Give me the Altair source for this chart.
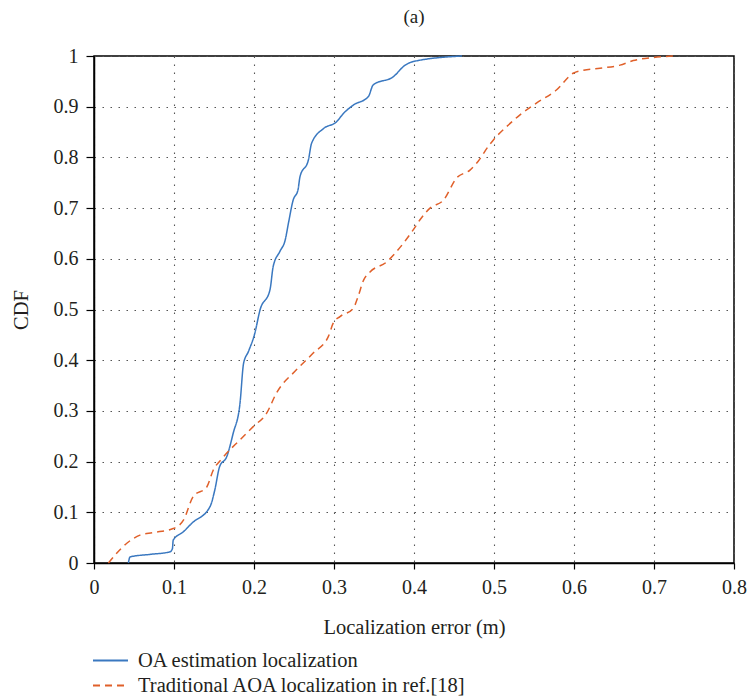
import altair as alt
import pandas as pd

series_names = ["OA estimation localization", "Traditional AOA localization in ref.[18]"]
series_colors = ["#3A78C0", "#E0602A"]

blue_x = [0.043, 0.045, 0.070, 0.095, 0.098, 0.099, 0.112, 0.122, 0.145, 0.151, 0.157, 0.166,
          0.174, 0.1825, 0.187, 0.193, 0.201, 0.2075, 0.220, 0.224, 0.2325, 0.239, 0.243, 0.249,
          0.255, 0.2575, 0.268, 0.272, 0.287, 0.303, 0.312, 0.324, 0.343, 0.349, 0.374, 0.389,
          0.399, 0.460]
blue_y = [0.000, 0.012, 0.017, 0.022, 0.028, 0.045, 0.062, 0.078, 0.111, 0.144, 0.190, 0.210,
          0.256, 0.315, 0.394, 0.417, 0.453, 0.499, 0.539, 0.585, 0.615, 0.637, 0.670, 0.716,
          0.736, 0.762, 0.795, 0.828, 0.857, 0.870, 0.887, 0.903, 0.920, 0.943, 0.959, 0.982,
          0.989, 1.000]

orange_x = [0.018, 0.041, 0.0575, 0.074, 0.099, 0.112, 0.124, 0.141, 0.149, 0.160, 0.1825,
            0.199, 0.216, 0.228, 0.253, 0.274, 0.293, 0.299, 0.3075, 0.324, 0.330, 0.337,
            0.345, 0.366, 0.378, 0.399, 0.4075, 0.420, 0.437, 0.453, 0.470, 0.480, 0.493,
            0.499, 0.516, 0.5325, 0.553, 0.578, 0.599, 0.612, 0.6325, 0.6575, 0.674, 0.699,
            0.724]
orange_y = [0.000, 0.039, 0.055, 0.060, 0.068, 0.085, 0.131, 0.150, 0.183, 0.206, 0.243,
            0.269, 0.296, 0.335, 0.381, 0.414, 0.447, 0.473, 0.486, 0.502, 0.525, 0.558,
            0.574, 0.594, 0.614, 0.657, 0.677, 0.700, 0.716, 0.759, 0.775, 0.792, 0.822,
            0.834, 0.861, 0.884, 0.907, 0.933, 0.966, 0.972, 0.976, 0.982, 0.991, 0.997,
            1.000]

x_ticks = [0, 0.1, 0.2, 0.3, 0.4, 0.5, 0.6, 0.7, 0.8]
y_ticks = [0, 0.1, 0.2, 0.3, 0.4, 0.5, 0.6, 0.7, 0.8, 0.9, 1]

rows = []
for i, (xs, ys) in enumerate([(blue_x, blue_y), (orange_x, orange_y)]):
    for k, (a, b) in enumerate(zip(xs, ys)):
        rows.append({"series": series_names[i], "x": a, "y": b, "k": k})
df = pd.DataFrame(rows)

FONT = "Liberation Serif"
TXT = "#231F20"

chart = alt.Chart(df).mark_line(strokeWidth=1.5, interpolate="monotone").encode(
    x=alt.X("x:Q", scale=alt.Scale(domain=[0, 0.8], nice=False),
            axis=alt.Axis(values=x_ticks, format="~g", title="Localization error (m)",
                          labelFont=FONT, labelFontSize=20, labelFlush=False,
                          tickSize=6, labelPadding=8, titlePadding=20)),
    y=alt.Y("y:Q", scale=alt.Scale(domain=[0, 1], nice=False),
            axis=alt.Axis(values=y_ticks, format="~g", title="CDF",
                          labelFont=FONT, labelFontSize=20, labelFlush=False,
                          tickSize=8, labelPadding=8, titlePadding=22)),
    color=alt.Color("series:N", scale=alt.Scale(domain=series_names, range=series_colors),
                    legend=alt.Legend(title=None)),
    strokeDash=alt.StrokeDash("series:N", scale=alt.Scale(domain=series_names, range=[[1, 0], [7, 5]]),
                              legend=alt.Legend(title=None)),
    order="k:Q",
).properties(
    width=640, height=507,
    title=alt.TitleParams("(a)", fontSize=19, font=FONT, fontWeight="normal", color=TXT,
                          anchor="middle", offset=19),
    autosize=alt.AutoSizeParams(type="none"),
    padding={"left": 94, "top": 56, "right": 13, "bottom": 136},
).configure_view(
    stroke="black", strokeWidth=1.5
).configure_axis(
    domainColor="black", domainWidth=1.5, tickColor="black", tickWidth=1.2,
    grid=True, gridColor="#555555", gridDash=[1.5, 6.5], gridWidth=1.1, gridOpacity=1,
    labelFont=FONT, labelFontSize=20, labelColor=TXT,
    titleFont=FONT, titleFontSize=20.5, titleFontWeight="normal", titleColor=TXT,
).configure_legend(
    orient="none", legendX=-2, legendY=592, direction="vertical",
    symbolType="stroke", symbolSize=1225, symbolStrokeWidth=1.8,
    labelFont=FONT, labelFontSize=20.5, labelColor=TXT, labelOffset=9,
    rowPadding=0, clipHeight=25, labelLimit=500,
)

chart.save("out.html", embed_options={"renderer": "svg", "actions": False})
